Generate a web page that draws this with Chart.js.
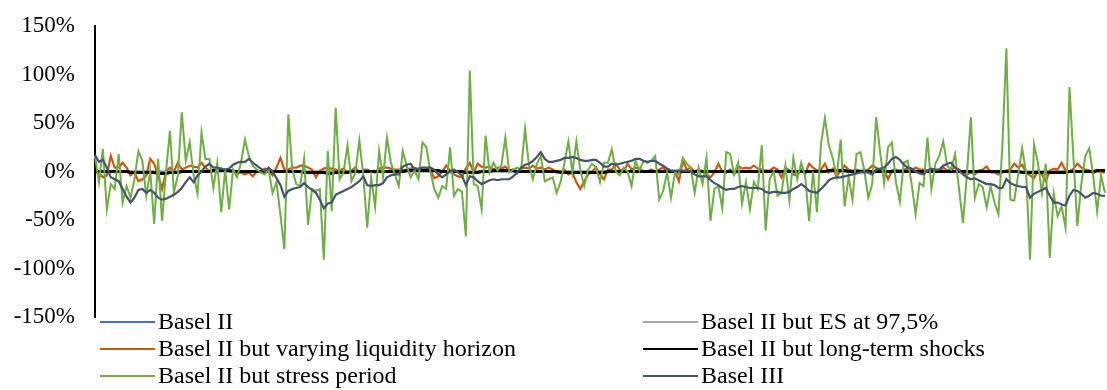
<!DOCTYPE html>
<html>
<head>
<meta charset="utf-8">
<script src="https://cdn.jsdelivr.net/npm/chart.js@4"></script>
<style>
  body { margin: 0; background: #fff; }
  #wrap { position: relative; width: 1107px; height: 390px; }
  #chart { position: absolute; left: 0; top: 0; }
  #legend {
    position: absolute; left: 100px; top: 308px;
    display: grid; grid-template-columns: 543px 420px;
    font-family: "Liberation Serif", "Times New Roman", serif;
    font-size: 24px; color: #000;
  }
  .item { height: 27px; display: flex; align-items: center; white-space: nowrap; }
  .swatch { width: 55px; height: 2px; margin-right: 3px; }
</style>
</head>
<body>
<div id="wrap">
  <canvas id="chart" width="1107" height="332"></canvas>
  <div id="legend"></div>
</div>
<script>
// values in % (one point per period)
const stressPeriod = [
  16,-11,23,-39,-13,-18,18,-32,-15,-27,-8,21,11,-25,0,-54,13,-51,0,42,-22,-4,61,11,30,-4,-23,40,13,13,-17,9,-42,2,-39,2,-6,9,33,16,6,2,
  -1,-3,2,-22,-11,-45,-80,59,2,-13,-15,13,-55,-18,-20,-18,-91,21,-41,66,-8,-1,27,-10,-1,32,-4,-58,-6,-36,21,-6,35,9,-3,-15,21,6,-6,1,-8,30,25,
  0,-18,-27,-15,-18,25,-25,-18,-21,-67,104,-13,-15,-39,37,-1,9,1,6,35,-1,2,4,2,44,6,-8,8,16,-10,-8,-6,-22,-11,9,31,-1,31,2,-15,2,8,4,
  -11,9,9,23,0,-4,4,0,-15,11,1,11,9,11,16,-29,-20,-1,-27,-1,-3,14,8,4,-22,4,-13,14,-51,-18,-15,-38,20,18,-3,9,-33,-11,-39,-11,-18,27,-61,
  -8,0,-25,-22,6,-30,14,-8,9,-5,-51,0,-42,28,55,27,14,-5,33,-36,-6,-29,18,20,1,-27,-13,56,20,-12,25,30,-11,-31,9,11,-13,-44,-12,-15,35,-18,8,16,
  31,6,2,18,-18,-53,-3,56,-27,-13,-16,-37,-15,-32,-44,28,127,-29,-30,-3,24,-1,-91,28,9,-22,8,-89,-23,-46,-36,-58,87,14,-56,-13,16,24,-4,-41,-4,-22
];
const basel3 = [
  17,10,12,4,-6,-8,-10,-18,-26,-32,-27,-19,-18,-22,-19,-22,-27,-29,-28,-26,-24,-21,-17,-11,-6,-11,-4,0,5,8,4,4,3,2,3,7,9,10,10,13,9,6,
  3,0,4,0,-7,-14,-26,-20,-18,-17,-16,-12,-16,-19,-22,-29,-38,-33,-32,-24,-22,-20,-18,-16,-13,-10,-5,-14,-15,-14,-14,-12,-6,-4,-3,-3,5,7,8,2,3,4,4,
  4,2,-3,-6,-3,0,2,-1,-4,-14,-5,-6,-10,-13,-11,-9,-8,-9,-8,-8,-8,-5,-1,4,7,8,11,15,20,13,10,10,11,12,14,14,15,14,12,11,11,12,12,
  9,5,5,8,7,8,9,10,11,13,13,11,10,11,11,8,6,3,1,1,1,1,1,0,-3,-5,-5,-5,-9,-12,-14,-17,-19,-18,-18,-16,-15,-16,-17,-17,-17,-18,-21,
  -22,-21,-21,-22,-22,-21,-18,-16,-13,-16,-20,-21,-22,-18,-14,-9,-7,-6,-6,-5,-4,-3,-2,-1,-1,-1,-3,2,3,4,8,13,15,12,7,4,3,0,-2,-3,1,3,2,2,
  6,8,9,4,1,-3,-6,-8,-7,-9,-11,-13,-13,-14,-17,-17,-8,-12,-14,-15,-16,-16,-27,-23,-21,-19,-17,-25,-32,-32,-34,-35,-25,-19,-20,-23,-27,-25,-22,-23,-25,-25
];
const liquidity = [
  0,-2,-6,-4,16,4,4,9,4,-4,-1,-10,-8,-4,13,8,-4,-18,0,4,0,9,2,4,6,5,4,9,4,0,1,-1,3,2,0,1,-2,-1,-3,-1,-5,0,
  0,3,2,-4,4,14,2,2,4,4,6,6,4,2,-6,1,3,4,3,2,1,3,-1,1,4,-1,2,2,0,-1,3,4,4,3,2,2,1,2,3,4,2,2,3,
  2,-7,-5,0,6,1,-3,-5,-6,3,9,-1,8,5,4,5,2,4,3,5,1,2,-2,3,4,3,6,3,4,2,4,2,-1,0,2,-3,-1,-11,-18,-10,-3,0,4,
  -3,-8,2,2,8,2,0,8,2,4,3,0,0,2,0,2,4,0,0,0,-10,11,2,4,0,2,0,-3,-6,-1,8,0,-1,2,-3,6,3,4,3,6,3,2,1,
  1,4,2,-6,4,1,-3,-4,2,-3,8,4,1,2,8,-1,3,-5,1,6,2,1,2,1,1,2,6,4,1,2,-8,1,2,1,2,3,1,4,2,2,1,1,1,0,
  4,1,2,4,2,-1,-3,-1,-3,1,2,5,-1,-1,-3,-1,1,2,8,4,7,-1,-4,-7,1,-3,-10,1,3,2,9,1,0,3,8,4,2,1,-2,1,-1,-1
];
const longTerm = [
  0,0,0,0,0,0,0,0,0,-1,-1,-1,-1,-1,-1,-1,-2,-2,-2,-1,-1,-1,0,0,0,0,0,0,0,0,1,1,1,1,1,0,0,0,0,0,0,0,
  0,0,0,0,0,0,0,0,0,0,0,-1,-1,-1,-1,-1,-1,-2,-2,-1,-1,-1,-1,0,0,0,0,0,0,0,0,0,0,0,0,0,0,1,1,1,1,1,1,
  1,1,1,0,0,0,0,0,0,-1,-1,-1,-1,0,0,0,1,1,1,1,1,1,0,0,0,0,0,0,0,0,0,0,0,-1,-1,-1,-1,-1,-1,-1,-1,-1,-1,
  -1,-1,0,0,0,0,0,0,0,0,0,0,0,0,0,0,0,0,0,0,0,0,0,0,0,0,0,0,0,0,0,0,0,0,0,0,0,0,0,0,0,0,0,
  0,0,0,0,0,0,0,0,0,0,0,0,0,0,0,1,1,1,1,1,0,0,0,0,0,0,0,0,0,0,0,0,0,0,0,0,0,0,0,0,0,0,0,0,
  0,0,0,0,0,0,0,0,0,0,0,0,0,0,0,0,0,0,0,0,-1,-1,-1,-1,-1,-1,-1,-1,-1,-1,-1,-1,0,0,0,0,0,0,0,1,1,1
];
const es975 = [
  0,0,0,0,0,0,0,0,0,0,0,0,0,0,0,0,-1,-1,-1,0,0,0,0,0,0,0,0,0,0,0,0,0,1,1,0,0,0,0,0,0,0,0,
  0,0,0,0,0,0,0,0,0,0,0,0,0,0,0,0,0,-1,-1,0,0,0,0,0,0,0,0,0,0,0,0,0,0,0,0,0,0,0,0,1,1,0,0,
  0,0,0,0,0,0,0,0,0,0,0,0,0,0,0,0,1,1,0,0,0,0,0,0,0,0,0,0,0,0,0,0,0,0,0,0,0,-1,-1,0,0,0,0,
  0,0,0,0,0,0,0,0,0,0,0,0,0,0,0,0,0,0,0,0,0,0,0,0,0,0,0,0,0,0,0,0,0,0,0,0,0,0,0,0,0,0,0,
  0,0,0,0,0,0,0,0,0,0,0,0,0,0,0,0,0,0,0,0,0,0,0,0,0,0,0,0,0,0,0,0,0,0,0,0,0,0,0,0,0,0,0,0,
  0,0,0,0,0,0,0,0,0,0,0,0,0,0,0,0,0,0,0,0,0,0,-1,-1,0,0,0,0,0,0,0,0,0,0,0,0,0,0,0,0,0,0
];
const basel2 = [
  0,0,0,0,0,0,0,0,0,0,0,0,0,0,0,0,0,0,0,0,0,0,0,0,0,0,0,0,0,0,0,0,0,0,0,0,0,0,0,0,0,0,
  0,0,0,0,0,0,0,0,0,0,0,0,0,0,0,0,0,0,0,0,0,0,0,0,0,0,0,0,0,0,0,0,0,0,0,0,0,0,0,0,0,0,0,
  0,0,0,0,0,0,0,0,0,0,0,0,0,0,0,0,0,0,0,0,0,0,0,0,0,0,0,0,0,0,0,0,0,0,0,0,0,0,0,0,0,0,0,
  0,0,0,0,0,0,0,0,0,0,0,0,0,0,0,0,0,0,0,0,0,0,0,0,0,0,0,0,0,0,0,0,0,0,0,0,0,0,0,0,0,0,0,
  0,0,0,0,0,0,0,0,0,0,0,0,0,0,0,0,0,0,0,0,0,0,0,0,0,0,0,0,0,0,0,0,0,0,0,0,0,0,0,0,0,0,0,0,
  0,0,0,0,0,0,0,0,0,0,0,0,0,0,0,0,0,0,0,0,0,0,0,0,0,0,0,0,0,0,0,0,0,0,0,0,0,0,0,0,0,0
];

const seriesNames = [
  'Basel II', 'Basel II but ES at 97,5%',
  'Basel II but varying liquidity horizon', 'Basel II but long-term shocks',
  'Basel II but stress period', 'Basel III'
];
const seriesColors = ['#4472C4', '#A5A5A5', '#C55A11', '#000000', '#70AD47', '#44546A'];
const yTicks = [-150, -100, -50, 0, 50, 100, 150];

// periods are not labelled on the chart, just numbered
const periods = [];
for (let i = 1; i <= stressPeriod.length; i++) periods.push(String(i));

function makeSet(i, values, width, order){
    return {
        label: seriesNames[i],
        data: values,
        borderColor: seriesColors[i],
        backgroundColor: seriesColors[i],
        borderWidth: width,
        fill: false,
        pointRadius: 0,
        tension: 0,
        order: order
    };
}

const ctx = document.getElementById('chart');
const chart = new Chart(ctx, {
    type: 'line',
    data: {
        labels: periods,
        datasets: [
            makeSet(0, basel2, 2, 5),
            makeSet(1, es975, 2, 4),
            makeSet(2, liquidity, 2.2, 3),
            makeSet(3, longTerm, 3, 2),
            makeSet(4, stressPeriod, 2, 1),
            makeSet(5, basel3, 2.2, 0)
        ]
    },
    options: {
        responsive: false,
        animation: false,
        layout: { padding: { top: 26, right: 2, bottom: 15, left: 0 } },
        plugins: { legend: { display: false }, tooltip: { enabled: false } },
        scales: {
            x: { display: false },
            y: {
                min: yTicks[0],
                max: yTicks[yTicks.length - 1],
                afterFit: function(s){
                    s.width = 95;
                    s.paddingTop = 0;
                    s.paddingBottom = 0;
                },
                afterBuildTicks: function(s){ s.ticks = yTicks.map(v => ({ value: v })); },
                grid: { display: false, drawTicks: false },
                border: { display: true, color: '#000', width: 2 },
                ticks: {
                    padding: 20,
                    color: '#000',
                    font: { family: 'Liberation Serif', size: 23 },
                    callback: v => v + '%'
                }
            }
        }
    }
});

// legend in two columns, as in the original
const legend = document.getElementById('legend');
chart.data.datasets.forEach((ds) => {
    const item = document.createElement('div');
    item.className = 'item';
    const sw = document.createElement('span');
    sw.className = 'swatch';
    sw.style.background = ds.borderColor;
    item.appendChild(sw);
    item.appendChild(document.createTextNode(ds.label));
    legend.appendChild(item);
});
</script>
</body>
</html>
